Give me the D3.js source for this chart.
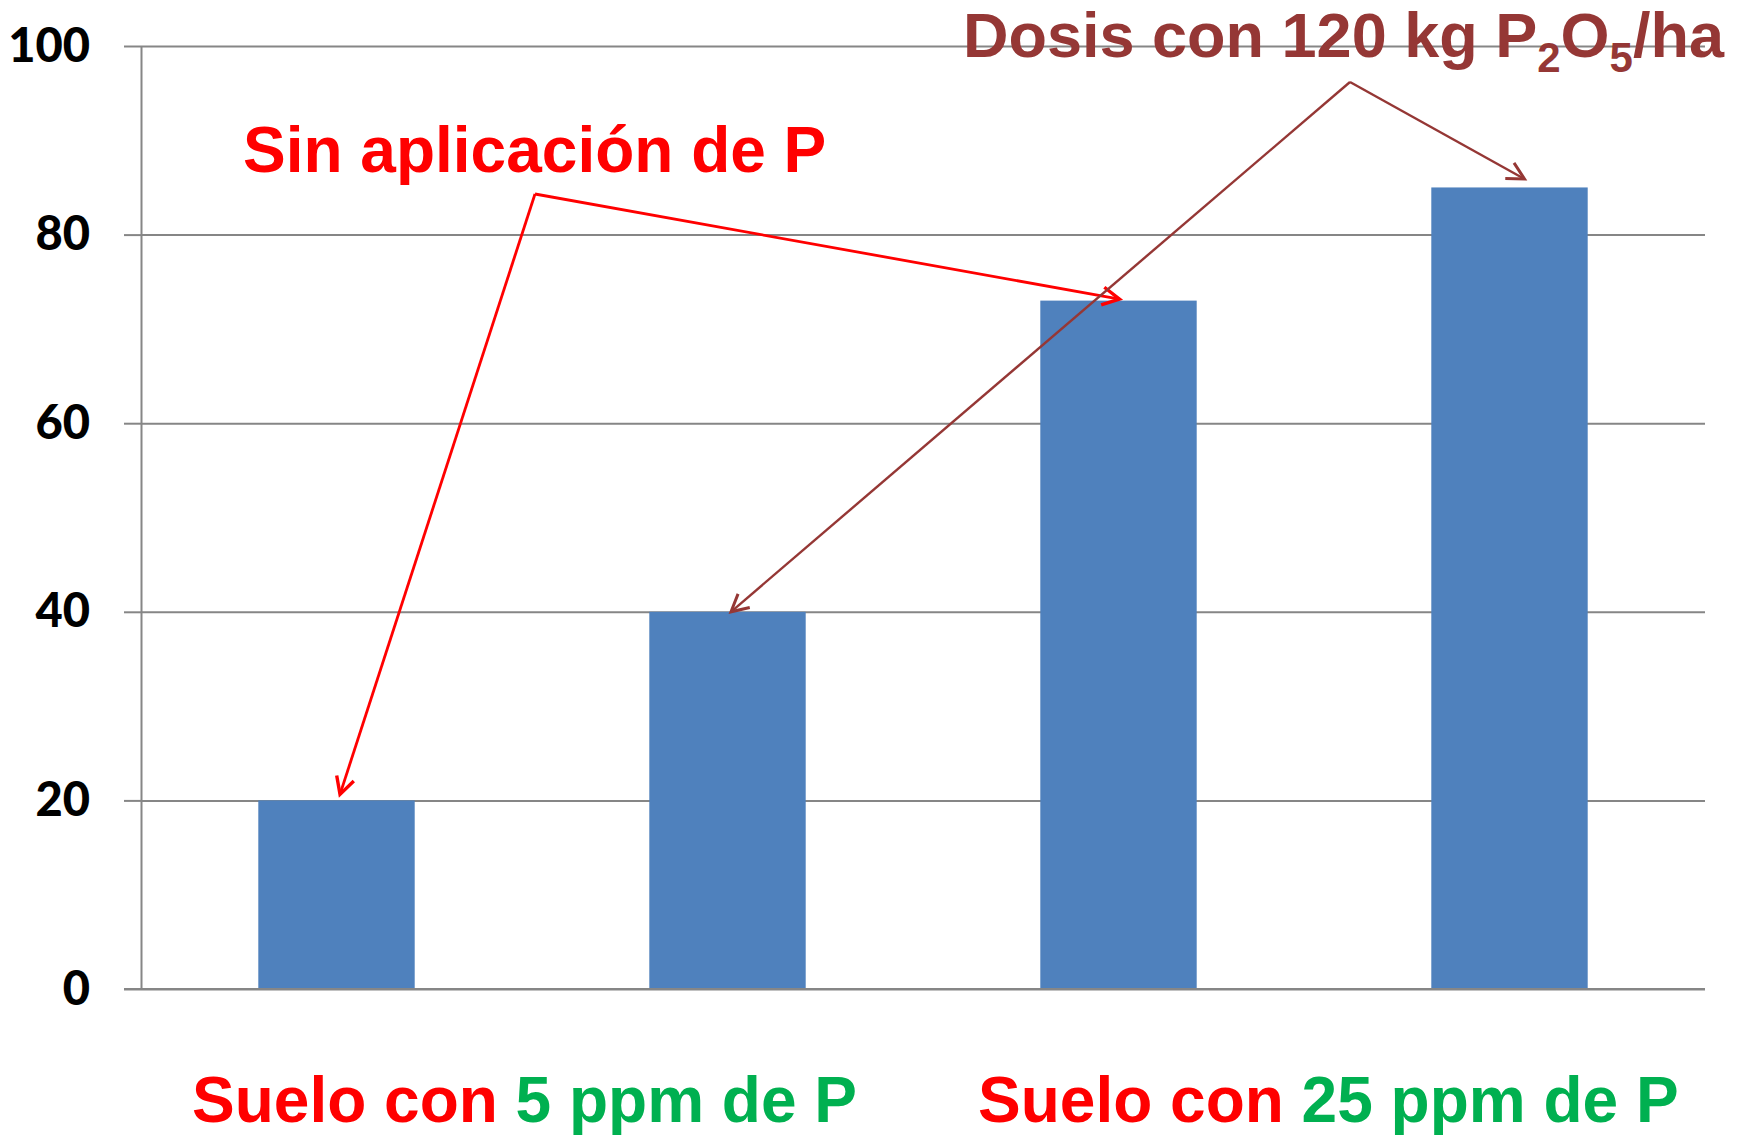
<!DOCTYPE html>
<html lang="es">
<head>
    <meta charset="UTF-8">
    <title>Rendimiento relativo - dosis de P</title>
    <script src="https://cdn.jsdelivr.net/npm/d3@7/dist/d3.min.js"></script>
    <style>
        body { margin: 0; background: #ffffff; }
    </style>
</head>
<body>
<svg width="1750" height="1135" viewBox="0 0 1750 1135"></svg>
<script>
// data
const categories = ["5 ppm sin P", "5 ppm 120 kg", "25 ppm sin P", "25 ppm 120 kg"];
const values = [20, 40, 73, 85];
const yTicks = [0, 20, 40, 60, 80, 100];

// group labels under the axis (text segments with colour)
const groupLabels = [
    [{t: "Suelo con ", c: "#ff0000"}, {t: "5 ppm de P", c: "#00b050"}],
    [{t: "Suelo con ", c: "#ff0000"}, {t: "25 ppm de P", c: "#00b050"}]
];

const plot = {left: 141, right: 1705, top: 46, bottom: 989};
const gridColor = "#868686";
const barColor = "#4f81bd";

const svg = d3.select("svg");

const xScale = d3.scaleBand()
    .domain(categories)
    .range([plot.left, plot.right])
    .paddingInner(0.6)
    .paddingOuter(0.3);

const yScale = d3.scaleLinear()
    .domain([0, 100])
    .range([plot.bottom, plot.top]);

// gridlines
const grid = svg.append("g")
    .attr("transform", "translate(" + plot.left + ",0)")
    .call(d3.axisRight(yScale).tickValues(yTicks)
        .tickSize(plot.right - plot.left).tickFormat(""));
grid.select(".domain").remove();
grid.selectAll("line").attr("stroke", gridColor).attr("stroke-width", 2);

// y axis with labels
const yAxis = svg.append("g")
    .attr("transform", "translate(" + plot.left + ",0)")
    .call(d3.axisLeft(yScale).tickValues(yTicks)
        .tickSize(17).tickSizeOuter(0).tickPadding(34));
yAxis.select(".domain").attr("stroke", gridColor).attr("stroke-width", 2);
yAxis.selectAll("line").attr("stroke", gridColor).attr("stroke-width", 2);
yAxis.selectAll("text")
    .attr("fill", "#000")
    .style("font-family", "Lato, 'Open Sans', sans-serif")
    .style("font-weight", "900")
    .style("font-size", "47px");

// bars
svg.append("g").selectAll("rect")
    .data(values)
    .join("rect")
    .attr("x", (d, i) => xScale(categories[i]))
    .attr("y", d => yScale(d))
    .attr("width", xScale.bandwidth())
    .attr("height", d => yScale(0) - yScale(d))
    .attr("fill", barColor);

// redraw the zero line over the bars
svg.append("line")
    .attr("x1", plot.left - 17).attr("x2", plot.right)
    .attr("y1", yScale(0)).attr("y2", yScale(0))
    .attr("stroke", gridColor).attr("stroke-width", 2);

// group labels
const labelFont = "'Liberation Sans', Arial, sans-serif";
const groupX = [192, 978];
groupLabels.forEach((segs, g) => {
    const t = svg.append("text")
        .attr("x", groupX[g])
        .attr("y", 1122)
        .style("font-family", labelFont)
        .style("font-weight", "bold")
        .style("font-size", "64px");
    segs.forEach(s => t.append("tspan").attr("fill", s.c).text(s.t));
});

// annotations
const annotations = [
    {color: "#ff0000", width: 2.8, vertex: [535, 194],
     targets: [{i: 0, dx: 3.5, dy: -6}, {i: 2, dx: 1, dy: -1.5}]},
    {color: "#953735", width: 2.4, vertex: [1350, 82],
     targets: [{i: 1, dx: 3.5, dy: 0}, {i: 3, dx: 15, dy: -8.5}]}
];

const defs = svg.append("defs");
annotations.forEach((a, k) => {
    defs.append("marker")
        .attr("id", "head" + k)
        .attr("markerUnits", "userSpaceOnUse")
        .attr("viewBox", "-20 -12 24 24")
        .attr("markerWidth", 24).attr("markerHeight", 24)
        .attr("refX", 0).attr("refY", 0)
        .attr("orient", "auto")
        .append("path")
        .attr("d", "M-17,-9L0,0L-17,9")
        .attr("fill", "none")
        .attr("stroke", a.color)
        .attr("stroke-width", a.width + 0.6);

    a.targets.forEach(tg => {
        const tx = xScale(categories[tg.i]) + xScale.bandwidth() / 2 + tg.dx;
        const ty = yScale(values[tg.i]) + tg.dy;
        svg.append("line")
            .attr("x1", a.vertex[0]).attr("y1", a.vertex[1])
            .attr("x2", tx).attr("y2", ty)
            .attr("stroke", a.color)
            .attr("stroke-width", a.width)
            .attr("marker-end", "url(#head" + k + ")");
    });
});

svg.append("text")
    .attr("x", 243)
    .attr("y", 172)
    .attr("fill", "#ff0000")
    .style("font-family", labelFont)
    .style("font-weight", "bold")
    .style("font-size", "64px")
    .text("Sin aplicación de P");

const dosis = svg.append("text")
    .attr("x", 963)
    .attr("y", 57)
    .attr("fill", "#953735")
    .style("font-family", labelFont)
    .style("font-weight", "bold")
    .style("font-size", "63px");
dosis.append("tspan").text("Dosis con 120 kg P");
dosis.append("tspan").attr("dy", 15).style("font-size", "42px").text("2");
dosis.append("tspan").attr("dy", -15).text("O");
dosis.append("tspan").attr("dy", 15).style("font-size", "42px").text("5");
dosis.append("tspan").attr("dy", -15).text("/ha");
</script>
</body>
</html>
